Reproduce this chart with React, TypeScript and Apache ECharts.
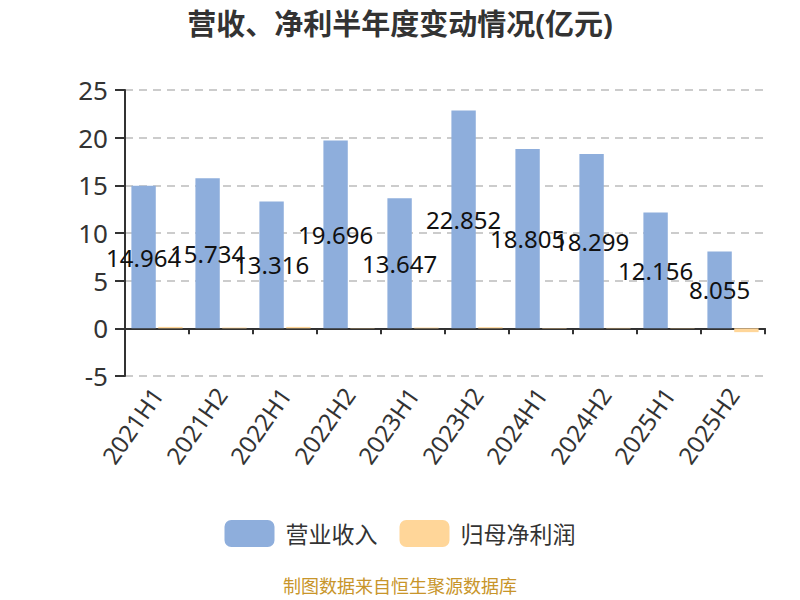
import { useEffect, useRef } from "react";
import * as echarts from "echarts";

const periods = ["2021H1", "2021H2", "2022H1", "2022H2", "2023H1", "2023H2", "2024H1", "2024H2", "2025H1", "2025H2"];
const revenue = [14.964, 15.734, 13.316, 19.696, 13.647, 22.852, 18.805, 18.299, 12.156, 8.055];
const netProfit = [0.15, 0.08, 0.15, 0.03, 0.08, 0.12, -0.04, 0.05, -0.03, -0.4];

const FONT = "'Noto Sans', 'Noto Sans CJK SC', sans-serif";
const NARROW = "'Liberation Sans Narrow', 'Noto Sans', sans-serif";

export default function App() {
    const chartRef = useRef<HTMLDivElement | null>(null);

    useEffect(() => {
        document.body.style.margin = "0";
        if (!chartRef.current) return;
        const chart = echarts.init(chartRef.current, null, { renderer: "svg" });

        const option: any = {
            animation: false,
            textStyle: { fontFamily: FONT },
            title: {
                text: "营收、净利半年度变动情况(亿元)",
                left: "center",
                top: 4,
                textStyle: { fontSize: 29, fontWeight: "bold", color: "#333", fontFamily: FONT },
            },
            legend: {
                bottom: 48,
                left: "center",
                itemWidth: 50,
                itemHeight: 27,
                itemGap: 22,
                textStyle: { fontSize: 23, color: "#333", padding: [0, 0, 0, 6] },
                data: ["营业收入", "归母净利润"],
            },
            graphic: [
                {
                    type: "text",
                    left: "center",
                    top: 577,
                    style: {
                        text: "制图数据来自恒生聚源数据库",
                        fill: "#c8952a",
                        font: `18px ${FONT}`,
                    },
                },
            ],
            grid: { left: 125, right: 35, top: 90, bottom: 224 },
            xAxis: [
                {
                    type: "category",
                    data: periods,
                    axisLine: { onZero: true, lineStyle: { color: "#333", width: 2 } },
                    axisTick: { show: true, length: 6, lineStyle: { color: "#333", width: 2 } },
                    axisLabel: { show: false },
                },
                {
                    type: "category",
                    data: periods,
                    position: "bottom",
                    axisLine: { show: false, onZero: false },
                    axisTick: { show: false },
                    axisLabel: { rotate: 55, fontSize: 24, color: "#333", margin: 14 },
                },
            ],
            yAxis: {
                type: "value",
                min: -5,
                max: 25,
                interval: 5,
                axisLine: { show: true, lineStyle: { color: "#333", width: 2 } },
                axisTick: { show: true, length: 10, lineStyle: { color: "#333", width: 2 } },
                axisLabel: { fontSize: 26, color: "#333", margin: 17, fontFamily: NARROW },
                splitLine: { lineStyle: { type: [8, 6], color: "#ccc", width: 2 } },
            },
            series: [
                {
                    name: "营业收入",
                    type: "bar",
                    xAxisIndex: 0,
                    data: revenue,
                    barGap: "10%",
                    barCategoryGap: "20%",
                    itemStyle: { color: "#8eaedc" },
                    label: {
                        show: true,
                        position: "inside",
                        color: "#111",
                        fontSize: 24,
                        fontFamily: NARROW,
                        formatter: (p: any) => p.value.toFixed(3),
                    },
                },
                {
                    name: "归母净利润",
                    type: "bar",
                    xAxisIndex: 0,
                    data: netProfit,
                    itemStyle: { color: "#ffd699" },
                },
            ],
        };

        chart.setOption(option);
        return () => {
            chart.dispose();
        };
    }, []);

    return <div ref={chartRef} style={{ width: "800px", height: "600px" }} />;
}
